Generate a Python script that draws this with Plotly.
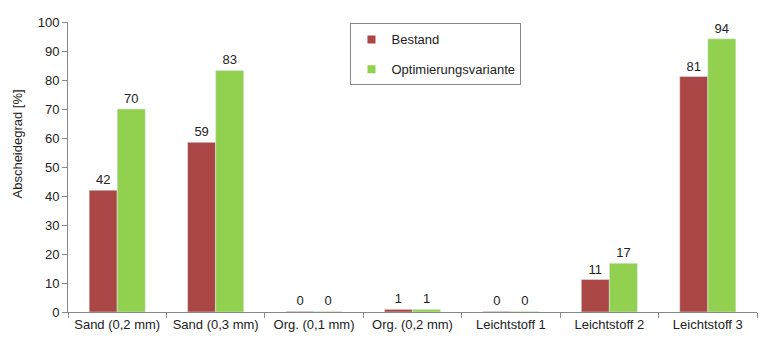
import plotly.graph_objects as go

categories = ["Sand (0,2 mm)", "Sand (0,3 mm)", "Org. (0,1 mm)", "Org. (0,2 mm)",
              "Leichtstoff 1", "Leichtstoff 2", "Leichtstoff 3"]
bestand = [42, 58.5, 0.2, 0.9, 0.2, 11.2, 81.2]
optimierung = [70, 83.3, 0.2, 0.9, 0.2, 16.8, 94.2]
series_names = ["Bestand", "Optimierungsvariante"]
colors = ["#AA4644", "#92D050"]
y_title = "Abscheidegrad [%]"

font_family = "Liberation Sans, Arial, sans-serif"

fig = go.Figure()
for name, vals, col, grp in zip(series_names, [bestand, optimierung], colors, ["a", "b"]):
    fig.add_trace(go.Bar(
        x=categories, y=vals, name=name, marker_color=col,
        text=vals, texttemplate="%{y:.0f}", textposition="outside",
        textfont=dict(size=13, color="#222"), cliponaxis=False,
        showlegend=False, legendgroup=grp))
    # legend entry with small square symbol
    fig.add_trace(go.Scatter(
        x=[None], y=[None], mode="markers", name=name,
        marker=dict(symbol="square", size=8, color=col),
        legendgroup=grp, showlegend=True))

fig.add_annotation(text=y_title, xref="paper", yref="paper",
                   x=-0.073, y=0.58, xanchor="center", yanchor="middle",
                   textangle=-90, showarrow=False, font=dict(size=13, color="#222"))

fig.update_layout(
    width=780, height=353,
    margin=dict(l=68, r=23, t=22, b=41),
    paper_bgcolor="white", plot_bgcolor="white",
    barmode="group", bargap=0.43, bargroupgap=0,
    font=dict(family=font_family, size=13, color="#222"),
    showlegend=True,
    legend=dict(x=0.41, y=0.995, xanchor="left", yanchor="top",
                bgcolor="white", bordercolor="#888", borderwidth=1,
                traceorder="grouped", tracegroupgap=10,
                font=dict(size=13), itemwidth=30),
    xaxis=dict(showline=True, linecolor="#888", linewidth=1,
               ticks="outside", tickson="boundaries", ticklen=5, tickcolor="#888",
               tickfont=dict(size=13), showgrid=False),
    yaxis=dict(range=[0, 100], dtick=10, showline=True, linecolor="#888", linewidth=1,
               ticks="outside", ticklen=5, tickcolor="#888", showgrid=False,
               tickfont=dict(size=13), zeroline=False),
)

fig.write_html("out.html")
